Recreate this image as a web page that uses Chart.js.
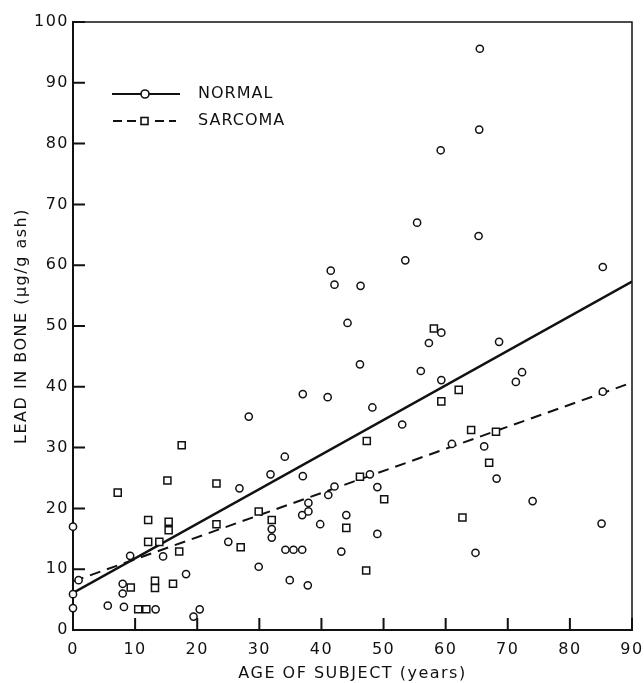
<!DOCTYPE html>
<html><head><meta charset="utf-8">
<script src="https://cdn.jsdelivr.net/npm/chart.js@4"></script>
<style>html,body{margin:0;padding:0;background:#fff}#wrap{width:644px;height:683px}</style>
</head><body><div id="wrap"><canvas id="c" width="644" height="683"></canvas></div>
<script>
// ---- data ----
const xTicks = [0,10,20,30,40,50,60,70,80,90];
const yTicks = [0,10,20,30,40,50,60,70,80,90,100];
const legendLabels = ['NORMAL','SARCOMA'];
const xTitle = 'AGE OF SUBJECT (years)';
const yTitle = 'LEAD IN BONE (\u03bcg/g ash)';

const normalAge  = [0,0,0,0.9,5.6,8.0,8.0,8.2,9.2,13.3,14.5,18.2,19.4,20.4,25.0,26.8,28.3,29.9,31.8,32.0,32.0,34.1,34.2,35.5,36.9,34.9,37.8,36.9,37.9,37.9,37.0,37.0,39.8,41.0,41.1,41.5,42.1,42.1,43.2,44.0,44.2,46.2,46.3,47.8,48.2,49.0,49.0,53.0,53.5,55.4,56.0,57.3,59.2,59.3,59.3,61.0,64.8,65.3,65.4,65.5,66.2,68.2,68.6,71.3,72.3,74.0,85.1,85.3,85.3];
const normalLead = [17.0,5.9,3.6,8.2,4.0,7.6,6.0,3.8,12.2,3.4,12.1,9.2,2.2,3.4,14.5,23.3,35.1,10.4,25.6,16.6,15.2,28.5,13.2,13.2,13.2,8.2,7.35,18.9,20.9,19.5,25.3,38.8,17.4,38.3,22.2,59.1,56.8,23.6,12.9,18.9,50.5,43.7,56.6,25.6,36.6,23.5,15.8,33.8,60.8,67.0,42.6,47.2,78.9,48.9,41.1,30.6,12.7,64.8,82.3,95.6,30.2,24.9,47.4,40.8,42.4,21.2,17.5,59.7,39.2];

const sarcomaAge  = [7.2,9.3,10.5,11.8,12.1,12.1,13.9,13.2,13.2,15.2,15.4,15.4,16.1,17.1,17.5,23.1,23.1,27.0,29.9,32.0,44.0,46.2,47.2,47.3,50.1,58.1,59.3,62.1,62.7,64.1,67.0,68.1];
const sarcomaLead = [22.6,7.0,3.4,3.4,18.1,14.5,14.5,8.1,6.9,24.6,17.8,16.4,7.6,12.9,30.4,24.1,17.4,13.6,19.5,18.1,16.8,25.2,9.8,31.1,21.5,49.6,37.6,39.5,18.5,32.9,27.5,32.6];

const normalFitAge  = [0,90];
const normalFitLead = [6.1,57.3];
const sarcomaFitAge  = [0,90];
const sarcomaFitLead = [8.0,40.7];

// ---- build ----
const zip = (xs, ys) => xs.map((x,i)=>({x:x, y:ys[i]}));
const INK = '#111';
const FONT = 'DejaVu Sans';
const SPACING = '1.5px';

const spacingPlugin = {
  id: 'spacing',
  beforeLayout(chart) { chart.ctx.letterSpacing = SPACING; },
  beforeDraw(chart) { chart.ctx.letterSpacing = SPACING; }
};

const framePlugin = {
  id: 'frame',
  afterDatasetsDraw(chart) {
    const {ctx, chartArea: a, scales} = chart;
    ctx.save();
    ctx.strokeStyle = INK;
    ctx.lineWidth = 1.5;
    ctx.beginPath();
    ctx.moveTo(a.left, a.top); ctx.lineTo(a.right, a.top); ctx.lineTo(a.right, a.bottom);
    ctx.stroke();
    ctx.lineWidth = 2;
    ctx.beginPath();
    scales.x.ticks.forEach(t => {
      const px = scales.x.getPixelForValue(t.value);
      ctx.moveTo(px, a.bottom); ctx.lineTo(px, a.bottom - 12);
    });
    scales.y.ticks.forEach(t => {
      const py = scales.y.getPixelForValue(t.value);
      ctx.moveTo(a.left, py); ctx.lineTo(a.left + 12, py);
    });
    ctx.stroke();
    ctx.restore();
  }
};

const legendPlugin = {
  id: 'customLegend',
  afterDraw(chart) {
    const {ctx} = chart;
    ctx.save();
    ctx.strokeStyle = INK; ctx.fillStyle = INK;
    let y = 94;
    ctx.lineWidth = 2;
    ctx.setLineDash([]);
    ctx.beginPath(); ctx.moveTo(112, y); ctx.lineTo(180, y); ctx.stroke();
    ctx.fillStyle = '#fff';
    ctx.lineWidth = 1.6;
    ctx.beginPath(); ctx.arc(145, y, 4, 0, Math.PI*2); ctx.fill(); ctx.stroke();
    y = 121;
    ctx.lineWidth = 1.8;
    ctx.setLineDash([9,5]);
    ctx.beginPath(); ctx.moveTo(113, y); ctx.lineTo(176, y); ctx.stroke();
    ctx.setLineDash([]);
    ctx.fillStyle = '#fff';
    ctx.fillRect(139, y-5, 11, 10);
    ctx.lineWidth = 1.6;
    ctx.strokeRect(141, y-3.5, 7, 7);
    ctx.fillStyle = INK;
    ctx.letterSpacing = '1px';
    ctx.font = '16px "' + FONT + '"';
    ctx.textBaseline = 'middle';
    ctx.textAlign = 'left';
    ctx.fillText(legendLabels[0], 198, 94);
    ctx.fillText(legendLabels[1], 198, 121);
    ctx.restore();
  }
};

new Chart(document.getElementById('c'), {
  type: 'scatter',
  data: {
    datasets: [
      { label: legendLabels[0], data: zip(normalAge, normalLead), pointStyle: 'circle',
        pointRadius: 3.6, borderWidth: 1.5, borderColor: INK, backgroundColor: '#fff', clip: false },
      { label: legendLabels[1], data: zip(sarcomaAge, sarcomaLead), pointStyle: 'rect',
        pointRadius: 5, borderWidth: 1.5, borderColor: INK, backgroundColor: '#fff', clip: false },
      { label: 'fit normal', data: zip(normalFitAge, normalFitLead), showLine: true, pointRadius: 0,
        borderColor: INK, borderWidth: 2.5, fill: false },
      { label: 'fit sarcoma', data: zip(sarcomaFitAge, sarcomaFitLead), showLine: true, pointRadius: 0,
        borderColor: INK, borderWidth: 2, borderDash: [11,7], fill: false }
    ]
  },
  options: {
    responsive: false,
    animation: false,
    devicePixelRatio: 1,
    layout: { padding: { left: 0, right: 12, top: 22, bottom: 0 } },
    plugins: { legend: { display: false }, tooltip: { enabled: false } },
    scales: {
      x: {
        type: 'linear', min: 0, max: 90,
        afterBuildTicks: s => { s.ticks = xTicks.map(v => ({value: v})); },
        afterFit: s => { s.height = 53; s.paddingRight = 0; s.paddingLeft = 0; },
        grid: { display: true, drawOnChartArea: false, drawTicks: false },
        border: { display: true, color: INK, width: 2 },
        ticks: { color: INK, font: { family: FONT, size: 16 }, padding: 10, maxRotation: 0 },
        title: { display: true, text: xTitle, color: INK, font: { family: FONT, size: 16 }, padding: { top: 0, bottom: 0 } }
      },
      y: {
        type: 'linear', min: 0, max: 100,
        afterBuildTicks: s => { s.ticks = yTicks.map(v => ({value: v})); },
        afterFit: s => { s.width = 73; s.paddingTop = 0; s.paddingBottom = 0; },
        grid: { display: true, drawOnChartArea: false, drawTicks: false },
        border: { display: true, color: INK, width: 2 },
        ticks: { color: INK, font: { family: FONT, size: 16 }, padding: 4 },
        title: { display: true, text: yTitle, color: INK, font: { family: FONT, size: 16 }, padding: { top: 12, bottom: 0 } }
      }
    }
  },
  plugins: [spacingPlugin, framePlugin, legendPlugin]
});
</script>
</body></html>
